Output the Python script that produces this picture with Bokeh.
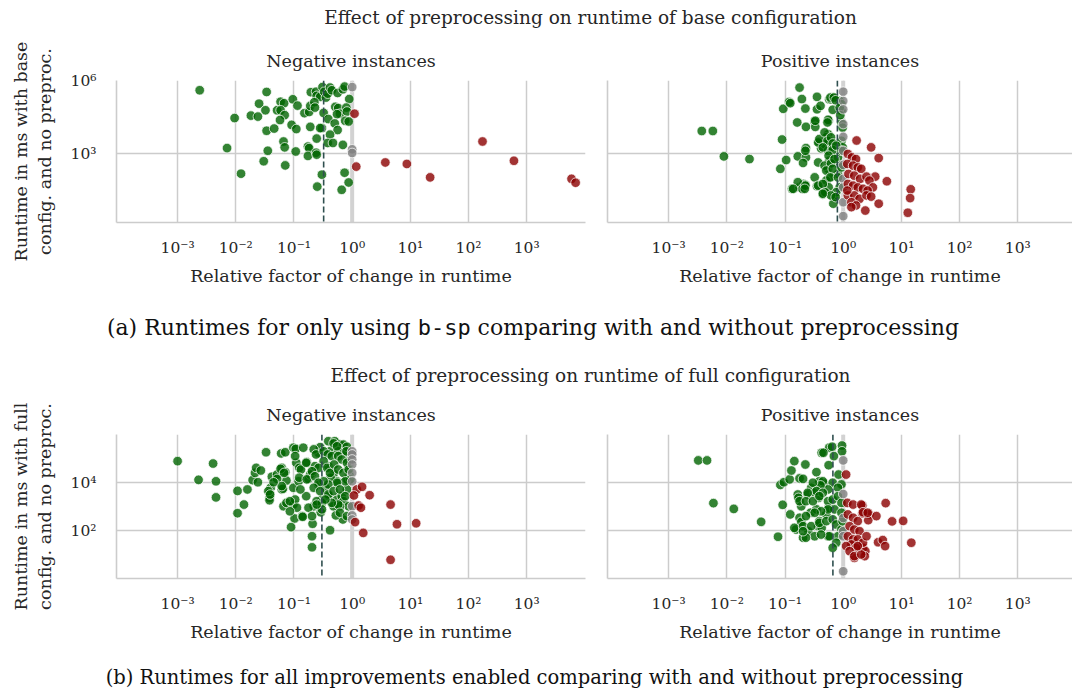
import numpy as np
from bokeh.plotting import figure
from bokeh.models import Range1d, FixedTicker, Span, Div
from bokeh.layouts import column, row
from bokeh.embed import file_html
from bokeh.resources import INLINE

SERIF = "DejaVu Serif"
MONO = "DejaVu Sans Mono"
INK = "#262626"
GRID = "#cccccc"
GREEN, RED, GRAY = "#006400", "#8b0000", "#808080"

# ---------------- axis ticks ----------------
x_tick_values = [0.001, 0.01, 0.1, 1.0, 10.0, 100.0, 1000.0]
x_tick_labels = ["10⁻³", "10⁻²", "10⁻¹", "10⁰", "10¹", "10²", "10³"]
a_y_tick_values = [1000.0, 1000000.0]
a_y_tick_labels = ["10³", "10⁶"]
b_y_tick_values = [100.0, 10000.0]
b_y_tick_labels = ["10²", "10⁴"]

# ---------------- data: (log10 relative factor, log10 runtime ms) ----------------
# (a) base configuration (b-sp only), negative instances
a_neg_faster = [(-2.62,5.60),(-2.02,4.46),(-2.15,3.23),(-1.91,2.18),(-1.47,5.53),(-1.60,5.05),(-1.49,4.78),
    (-1.74,4.56),(-1.62,4.52),(-1.47,3.94),(-1.34,4.03),(-1.45,3.12),(-1.52,2.69),(-1.23,5.13),(-1.17,5.07),
    (-1.29,4.78),(-1.23,4.78),(-1.16,4.58),(-1.24,4.38),(-1.02,5.23),(-0.94,4.97),(-1.04,4.18),(-0.96,4.01),
    (-1.18,3.50),(-1.16,3.26),(-1.15,2.52),(-0.97,3.09),(-0.82,4.66),(-0.74,4.71),(-0.72,4.96),(-0.71,5.52),
    (-0.62,5.54),(-0.61,5.37),(-0.55,5.33),(-0.51,5.73),(-0.48,5.54),(-0.45,5.30),(-0.42,5.46),(-0.38,5.71),
    (-0.35,5.60),(-0.25,5.49),(-0.16,5.64),(-0.13,5.75),(-0.05,5.24),(-0.65,5.11),(-0.64,4.89),(-0.49,4.67),
    (-0.41,4.42),(-0.29,4.92),(-0.24,4.87),(-0.21,4.64),(-0.26,4.62),(-0.10,4.89),(-0.09,4.73),(-0.12,4.35),
    (-0.06,4.32),(-0.30,4.24),(-0.25,3.97),(-0.38,3.78),(-0.42,3.44),(-0.33,3.44),(-0.16,3.36),(-0.52,4.05),
    (-0.55,4.05),(-0.72,4.10),(-0.61,3.62),(-0.76,3.29),(-0.74,3.23),(-0.76,2.91),(-0.62,3.04),(-0.61,2.96),
    (-0.52,2.14),(-0.60,1.65),(-0.13,2.22),(-0.06,1.82),(-0.18,1.52)]
a_neg_same = [(0.0,5.73),(0.0,3.18),(0.0,3.03)]
a_neg_slower = [(0.04,4.64),(0.07,2.47),(0.57,2.64),(0.94,2.58),(1.34,2.03),(2.24,3.50),(2.78,2.71),
    (3.77,1.97),(3.84,1.81)]
a_neg_median_log = -0.49

# (a) base configuration, positive instances
a_pos_faster = [(-2.43,3.93),(-2.24,3.93),(-2.05,2.89),(-1.61,2.78),(-1.08,2.38),(-1.05,3.58),(-1.03,4.84),
    (-0.98,2.74),(-0.93,5.12),(-0.88,1.56),(-0.75,5.71),(-0.71,5.24),(-0.79,4.28),(-0.78,2.89),(-0.75,1.62),
    (-0.65,4.85),(-0.64,4.10),(-0.64,3.23),(-0.64,2.85),(-0.68,1.76),(-0.65,1.72),(-0.49,4.31),(-0.48,4.10),
    (-0.45,5.33),(-0.45,4.82),(-0.39,4.96),(-0.42,3.49),(-0.38,3.22),(-0.43,2.64),(-0.49,2.03),(-0.45,1.67),
    (-0.35,1.33),(-0.25,4.35),(-0.24,5.23),(-0.26,3.80),(-0.29,3.67),(-0.24,3.53),(-0.32,3.40),(-0.21,3.26),
    (-0.26,3.12),(-0.24,2.71),(-0.26,2.38),(-0.24,2.03),(-0.29,1.90),(-0.25,1.62),(-0.16,1.22),(-0.17,0.95),
    (-0.21,5.23),(-0.18,5.30),(-0.06,5.16),(-0.03,5.03),(-0.03,4.76),(-0.03,4.28),(-0.01,4.07),(-0.03,3.53),
    (-0.01,3.26),(-0.09,2.85),(-0.06,2.51),(-0.09,2.17),(-0.06,1.62),(-0.12,1.42),(-0.91,5.07),(-0.22,5.30),
    (-0.16,5.30),(-0.13,5.19),(-0.18,4.80),(-0.48,4.35),(-0.26,4.39),(-0.27,4.28),(-0.06,4.89),(-0.05,4.58),
    (-0.65,3.12),(-0.69,2.62),(-0.43,3.46),(-0.41,3.60),(-0.32,3.87),(-0.27,3.53),(-0.21,3.67),(-0.18,3.42),
    (-0.35,3.26),(-0.18,3.15),(-0.12,3.33),(-0.25,2.92),(-0.32,2.51),(-0.21,2.60),(-0.15,2.78),(-0.29,2.31),
    (-0.18,2.38),(-0.22,2.03),(-0.09,2.03),(-0.43,1.69),(-0.35,1.76),(-0.31,1.42),(-0.21,1.29),(-0.13,1.22),
    (-0.35,1.36),(-0.78,1.83),(-0.70,1.56),(-0.65,1.69),(-0.86,1.56),(-0.66,1.56),(-0.03,3.12),(-0.03,2.44)]
a_pos_same = [(0.0,5.54),(0.0,5.16),(0.0,4.82),(0.0,4.21),(0.0,3.69),(0.0,3.12),(0.0,2.54),(0.0,1.97),
    (0.0,1.62),(0.0,1.01),(0.0,0.44)]
a_pos_slower = [(0.23,3.54),(0.48,3.26),(0.61,2.82),(0.75,1.87),(0.61,0.95),(0.38,0.67),(0.55,2.06),(0.08,2.99),
    (0.15,2.85),(0.22,2.78),(0.07,2.58),(0.17,2.51),(0.25,2.44),(0.31,2.38),(0.09,2.17),(0.19,2.10),(0.29,1.97),
    (0.40,2.06),(0.45,1.90),(0.51,1.62),(0.08,1.76),(0.17,1.69),(0.25,1.62),(0.34,1.56),(0.42,1.49),(0.08,1.29),
    (0.19,1.29),(0.28,1.15),(0.14,1.01),(0.22,0.88),(0.40,1.29),(0.48,1.24),(0.07,1.49),(0.14,0.81),(1.16,1.54),
    (1.15,1.18),(1.11,0.58)]
a_pos_median_log = -0.10

# (b) full configuration, negative instances
b_neg_faster = [(-3.00,4.89),(-2.64,4.11),(-2.39,4.79),(-2.34,4.05),(-2.34,3.38),(-1.97,3.65),(-1.80,3.71),
    (-1.86,3.08),(-1.97,2.72),(-1.71,4.10),(-1.62,4.01),(-1.67,4.40),(-1.65,4.61),(-1.57,4.50),(-1.48,5.26),
    (-1.40,3.78),(-1.42,3.57),(-1.42,3.36),(-1.42,3.26),(-1.38,4.24),(-1.29,4.33),(-1.21,4.61),(-1.15,4.43),
    (-1.13,4.08),(-1.21,3.71),(-1.19,3.74),(-1.22,5.21),(-1.15,5.26),(-1.18,3.01),(-1.13,3.15),(-1.01,5.45),
    (-0.97,5.40),(-0.84,5.45),(-0.78,4.85),(-0.96,4.82),(-0.91,4.61),(-1.01,3.78),(-0.92,4.05),(-1.01,3.08),
    (-0.99,2.50),(-1.05,2.14),(-0.86,2.60),(-0.98,3.29),(-0.95,2.95),(-0.75,4.15),(-0.69,4.37),(-0.64,4.68),
    (-0.58,3.92),(-0.79,3.43),(-0.66,3.01),(-0.68,2.28),(-0.69,1.76),(-0.69,1.30),(-0.58,5.24),(-0.55,5.47),
    (-0.52,3.29),(-0.54,2.76),(-0.41,5.72),(-0.30,5.72),(-0.21,5.58),(-0.15,5.58),(-0.38,5.30),(-0.24,5.30),
    (-0.41,4.68),(-0.32,4.37),(-0.26,4.05),(-0.37,4.20),(-0.46,3.78),(-0.41,3.43),(-0.26,3.29),(-0.18,3.43),
    (-0.32,3.01),(-0.16,2.46),(-0.38,2.01),(-0.09,5.24),(-0.06,4.89),(-0.06,4.61),(-0.06,4.05),(-0.09,3.71),
    (-0.05,4.33),(-0.15,3.22),(-0.06,3.01),(-0.09,4.13),(-0.98,5.10),(-1.29,4.15),(-1.23,4.57),(-1.17,4.40),
    (-1.21,3.85),(-1.35,4.01),(-1.44,3.64),(-1.41,3.50),(-0.88,4.54),(-0.91,4.20),(-0.79,4.82),(-0.72,4.33),
    (-0.89,3.71),(-1.07,3.22),(-1.07,2.80),(-0.61,3.22),(-0.75,2.95),(-0.52,3.15),(-0.69,2.60),(-0.85,2.57),
    (-0.28,2.63),(-0.21,3.01),(-0.66,5.38),(-0.62,5.17),(-0.49,5.30),(-0.32,5.63),(-0.26,5.51),(-0.09,5.49),
    (-0.10,5.30),(-0.42,5.17),(-0.35,5.10),(-0.24,5.10),(-0.18,4.96),(-0.09,4.82),(-0.49,4.89),(-0.58,4.61),
    (-0.69,4.47),(-0.78,4.13),(-0.64,4.26),(-0.43,4.61),(-0.38,4.40),(-0.31,4.75),(-0.24,4.54),(-0.15,4.40),
    (-0.06,4.54),(-0.03,4.13),(-0.12,4.05),(-0.26,3.99),(-0.41,3.92),(-0.49,4.05),(-0.58,3.99),(-0.66,3.78),
    (-0.55,3.64),(-0.41,3.50),(-0.32,3.64),(-0.21,3.71),(-0.12,3.43),(-0.24,3.08),(-0.35,3.15),(-0.46,3.29),
    (-0.52,2.88),(-0.61,3.08),(-0.21,2.74),(-0.09,2.60)]
b_neg_same = [(0.0,5.30),(0.0,5.17),(0.0,4.96),(0.0,4.75),(0.0,4.40),(0.0,4.05),(0.0,3.01),(0.0,2.63),(0.0,2.46)]
b_neg_slower = [(0.08,3.71),(0.17,3.82),(0.30,3.47),(0.03,3.46),(0.11,3.04),(0.15,2.95),(0.05,2.35),(0.19,1.90),
    (0.66,3.08),(0.77,2.26),(1.10,2.30),(0.66,0.78)]
b_neg_median_log = -0.52

# (b) full configuration, positive instances
b_pos_faster = [(-2.49,4.92),(-2.34,4.92),(-2.23,3.14),(-1.88,2.90),(-1.41,2.36),(-1.12,1.74),(-1.04,3.07),
    (-1.08,3.90),(-1.02,4.01),(-0.92,4.13),(-0.89,4.50),(-0.84,4.89),(-0.65,4.75),(-0.75,4.17),(-0.69,4.15),
    (-0.78,3.50),(-0.77,3.36),(-0.72,3.01),(-0.91,2.67),(-0.75,2.53),(-0.72,2.36),(-0.81,2.04),(-0.69,1.70),
    (-0.60,1.97),(-0.46,4.43),(-0.37,5.24),(-0.24,5.45),(-0.25,4.72),(-0.33,3.96),(-0.41,4.05),(-0.55,3.78),
    (-0.61,3.50),(-0.49,3.57),(-0.42,3.36),(-0.56,2.74),(-0.46,2.88),(-0.43,2.18),(-0.41,2.39),(-0.49,1.76),
    (-0.26,1.76),(-0.37,2.11),(-0.29,2.67),(-0.25,2.95),(-0.19,5.49),(-0.02,5.54),(-0.02,5.30),(-0.16,5.10),
    (-0.34,5.24),(-0.35,4.05),(-0.18,3.99),(-0.08,4.33),(-0.03,3.92),(-0.09,3.78),(-0.26,3.71),(-0.39,3.88),
    (-0.52,3.99),(-0.46,3.64),(-0.35,3.57),(-0.61,3.57),(-0.75,3.22),(-0.64,3.22),(-0.52,3.22),(-0.41,3.43),
    (-0.26,3.22),(-0.18,3.29),(-0.09,3.43),(-0.03,3.15),(-0.15,2.88),(-0.26,2.88),(-0.38,2.80),(-0.49,2.74),
    (-0.64,2.60),(-0.84,2.11),(-0.69,2.18),(-0.55,2.18),(-0.41,2.32),(-0.29,2.39),(-0.18,2.46),(-0.12,2.25),
    (-0.03,2.04),(-0.09,1.76),(-0.24,1.76),(-0.38,1.83),(-0.64,1.70),(-0.69,1.97),(-0.12,1.49),(-0.18,1.28),
    (-0.01,2.39),(-0.03,2.74)]
b_pos_same = [(0.0,4.92),(0.0,3.52),(0.0,2.52),(0.0,1.97),(0.0,1.76),(0.0,0.30)]
b_pos_slower = [(0.05,4.33),(0.73,3.14),(0.84,2.38),(1.03,2.40),(1.17,1.49),(0.60,1.51),(0.68,1.60),(0.72,1.35),
    (0.33,3.04),(0.45,2.67),(0.43,2.43),(0.57,2.60),(0.33,2.71),(0.34,1.28),(0.38,1.14),(0.19,0.86),(0.37,0.93),
    (0.07,3.15),(0.17,3.08),(0.31,3.08),(0.34,2.76),(0.42,2.74),(0.08,2.67),(0.17,2.53),(0.25,2.39),(0.11,2.18),
    (0.19,2.04),(0.28,1.97),(0.08,1.76),(0.17,1.63),(0.25,1.63),(0.34,1.49),(0.14,1.42),(0.05,1.35),(0.22,1.28),
    (0.11,1.14),(0.19,0.93),(0.31,1.00),(0.25,1.35),(0.40,1.76)]
b_pos_median_log = -0.177


def unlog(pairs):
    lx, ly = zip(*pairs)
    return list(10.0 ** np.array(lx)), list(10.0 ** np.array(ly))


def make_panel(title, x_hi_log, y_lo_log, y_hi_log, y_ticks, y_labels, frame_w, frame_h,
               border_l, border_r, ylabel, faster, same, slower, median_log):
    p = figure(x_axis_type="log", y_axis_type="log",
               x_range=Range1d(10 ** -4.05, 10 ** x_hi_log),
               y_range=Range1d(10 ** y_lo_log, 10 ** y_hi_log),
               frame_width=frame_w, frame_height=frame_h,
               min_border_left=border_l, min_border_right=border_r,
               min_border_top=44, min_border_bottom=78,
               output_backend="svg", toolbar_location=None, title=title)
    p.outline_line_color = None
    p.title.align = "center"
    p.title.text_font = SERIF
    p.title.text_font_size = "17.5px"
    p.title.text_font_style = "normal"
    p.title.text_color = INK
    p.title.standoff = 19

    xt = FixedTicker(ticks=x_tick_values)
    yt = FixedTicker(ticks=y_ticks)
    p.xaxis.ticker = xt
    p.xgrid.ticker = xt
    p.ygrid.ticker = yt
    p.xaxis.major_label_overrides = dict(zip(x_tick_values, x_tick_labels))
    if ylabel:
        p.yaxis.ticker = yt
        p.yaxis.major_label_overrides = dict(zip(y_ticks, y_labels))
    else:
        # shared y: spine only, no tick labels
        p.yaxis.ticker = FixedTicker(ticks=[])

    for ax in (p.xaxis, p.yaxis):
        ax.axis_line_color = GRID
        ax.axis_line_width = 1.6
        ax.major_tick_line_color = None
        ax.minor_tick_line_color = None
        ax.major_label_text_font = SERIF
        ax.major_label_text_font_size = "15.5px"
        ax.major_label_text_color = INK
        ax.major_label_standoff = 14
        ax.axis_label_text_font = SERIF
        ax.axis_label_text_font_size = "17.5px"
        ax.axis_label_text_font_style = "normal"
        ax.axis_label_text_color = INK
    p.xaxis.major_label_standoff = 10
    p.xaxis.axis_label = "Relative factor of change in runtime"
    p.xaxis.axis_label_standoff = 6
    if ylabel:
        p.yaxis.axis_label = ylabel
        p.yaxis.axis_label_standoff = 13

    for g in (p.xgrid, p.ygrid):
        g.grid_line_color = GRID
        g.grid_line_width = 1.5

    p.add_layout(Span(location=1.0, dimension="height", line_color="#d2d2d2",
                      line_width=4, level="underlay"))

    for pairs, col in ((faster, GREEN), (same, GRAY), (slower, RED)):
        xs, ys = unlog(pairs)
        p.scatter(xs, ys, size=9.6, fill_color=col, fill_alpha=0.8,
                  line_color="white", line_alpha=0.8, line_width=0.9)

    p.add_layout(Span(location=10 ** median_log, dimension="height", line_color="#2f4f4f",
                      line_width=1.6, line_dash="6 3"))
    return p


YL_A = "Runtime in ms with base\nconfig. and no preproc."
YL_B = "Runtime in ms with full\nconfig. and no preproc."

# x range of the right panels ends where the window cuts them (frame 607..1072)
pa_neg = make_panel("Negative instances", 4.01, 0.18, 6.0, a_y_tick_values, a_y_tick_labels,
                    469, 142, 116, 11, YL_A, a_neg_faster, a_neg_same, a_neg_slower, a_neg_median_log)
pa_pos = make_panel("Positive instances", 3.94, 0.18, 6.0, a_y_tick_values, a_y_tick_labels,
                    465, 142, 11, 0, None, a_pos_faster, a_pos_same, a_pos_slower, a_pos_median_log)
pb_neg = make_panel("Negative instances", 4.01, 0.0, 6.0, b_y_tick_values, b_y_tick_labels,
                    469, 144, 116, 11, YL_B, b_neg_faster, b_neg_same, b_neg_slower, b_neg_median_log)
pb_pos = make_panel("Positive instances", 3.94, 0.0, 6.0, b_y_tick_values, b_y_tick_labels,
                    465, 144, 11, 0, None, b_pos_faster, b_pos_same, b_pos_slower, b_pos_median_log)

W = 1072


def text_div(html, height, pad, lh, size, left=0, width=W, color=INK):
    inner = (f'<div style="margin-left:{left}px;width:{width}px;text-align:center;padding-top:{pad}px;'
             f'line-height:{lh}px;font-size:{size}px;font-family:\'{SERIF}\';color:{color};'
             f'white-space:nowrap;">{html}</div>')
    return Div(text=inner, width=W, height=height, margin=0)


title_a = text_div("Effect of preprocessing on runtime of base configuration", 36, 8, 20, 18.5,
                   left=116, width=949)
caption_a = text_div(f'(a) Runtimes for only using <span style="font-family:\'{MONO}\'">b-sp</span> '
                     'comparing with and without preprocessing', 49, 16, 24, 22, width=1066,
                     color="#111111")
title_b = text_div("Effect of preprocessing on runtime of full configuration", 41, 16, 22, 18.5,
                   left=116, width=949)
caption_b = text_div("(b) Runtimes for all improvements enabled comparing with and without preprocessing",
                     29, 10, 24, 19.5, width=1069, color="#111111")

layout = column(title_a, row(pa_neg, pa_pos), caption_a, title_b, row(pb_neg, pb_pos), caption_b)

open("out.html", "w").write(file_html(layout, INLINE))
